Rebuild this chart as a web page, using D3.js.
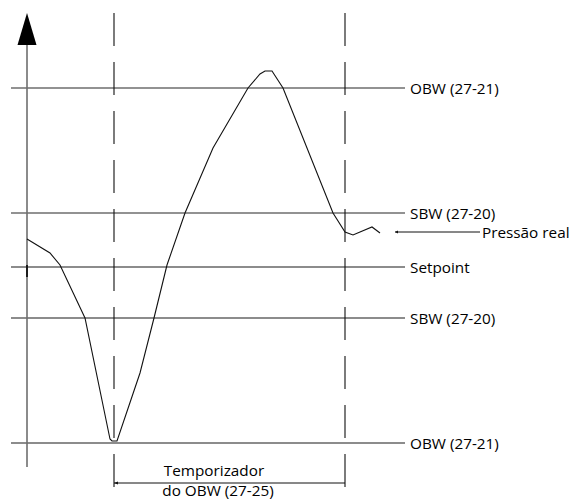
<!DOCTYPE html>
<html>
<head>
<meta charset="utf-8">
<script src="https://cdn.jsdelivr.net/npm/d3@7"></script>
<style>
  html, body { margin: 0; padding: 0; background: #fff; }
  svg { display: block; }
  text { font-family: "Open Sans", "Noto Sans", sans-serif; font-size: 15.3px; fill: #000; }
</style>
</head>
<body>
<svg id="chart" width="573" height="499"></svg>
<script>
// Pressure curve: time (arbitrary units) and pressure (relative to setpoint)
const curveTime  = [0, 23, 33, 58, 83, 85, 90, 113, 127, 140, 158, 186, 221, 233, 238, 245, 256, 306, 318, 326, 345, 353];
const curveValue = [28, 14, 2, -51, -172, -174, -174, -106, -51, 2, 54, 119, 179, 193, 196, 196, 179, 54, 35, 32, 40, 34];

// Horizontal reference levels
const levelNames  = ["OBW (27-21)", "SBW (27-20)", "Setpoint", "SBW (27-20)", "OBW (27-21)"];
const levelValues = [179, 54, 0, -51, -176];
const levelGray   = [true, true, false, false, false];

// Timer markers
const timerStart = 87;
const timerEnd = 318;
const timerLabel = ["Temporizador", "do OBW (27-25)"];
const actualLabel = "Pressão real";

const svg = d3.select("#chart");
const x = d3.scaleLinear().domain([0, 353]).range([27, 380]);
const y = d3.scaleLinear().domain([-176, 179]).range([443, 88]);

// horizontal level lines
const levels = levelNames.map((n, i) => ({ name: n, v: levelValues[i], gray: levelGray[i] }));
svg.selectAll("line.level").data(levels).join("line")
  .attr("class", "level")
  .attr("x1", x(-16)).attr("x2", x(378))
  .attr("y1", d => y(d.v)).attr("y2", d => y(d.v))
  .attr("stroke", d => d.gray ? "#6e6e6e" : "#1a1a1a")
  .attr("stroke-width", d => d.gray ? 1.6 : 1.1);

svg.selectAll("text.level").data(levels).join("text")
  .attr("class", "level")
  .attr("x", x(383)).attr("y", d => y(d.v))
  .attr("dy", "0.36em")
  .text(d => d.name);

// Y axis with arrow
svg.append("line")
  .attr("x1", x(0)).attr("x2", x(0))
  .attr("y1", y(-200)).attr("y2", 44)
  .attr("stroke", "#6e6e6e").attr("stroke-width", 1.6);
svg.append("line")
  .attr("x1", x(0)).attr("x2", x(0))
  .attr("y1", y(2)).attr("y2", y(-10))
  .attr("stroke", "#111").attr("stroke-width", 1.8);
svg.append("path")
  .attr("d", `M${x(0)},13 L${x(0) - 9.5},45 L${x(0) + 9.5},45 Z`)
  .attr("fill", "#000");

// dashed vertical timer lines
[timerStart, timerEnd].forEach(t => {
  svg.append("line")
    .attr("x1", x(t)).attr("x2", x(t))
    .attr("y1", 13).attr("y2", 493)
    .attr("stroke", "#111").attr("stroke-width", 1.1)
    .attr("stroke-dasharray", "33,16");
});

// pressure curve
const pts = curveTime.map((t, i) => [x(t), y(curveValue[i])]);
svg.append("path")
  .attr("d", d3.line()(pts))
  .attr("fill", "none").attr("stroke", "#111").attr("stroke-width", 1.1);

// Pressão real leader
const ly = y(35);
svg.append("line")
  .attr("x1", x(368)).attr("x2", x(453))
  .attr("y1", ly).attr("y2", ly)
  .attr("stroke", "#111").attr("stroke-width", 1);
svg.append("path")
  .attr("d", `M${x(368)},${ly} L${x(371)},${ly - 1.5} L${x(371)},${ly + 1.5} Z`)
  .attr("fill", "#111");
svg.append("text")
  .attr("x", x(455)).attr("y", ly).attr("dy", "0.36em")
  .text(actualLabel);

// timer arrow
const ty = y(-216);
svg.append("line")
  .attr("x1", x(timerStart)).attr("x2", x(timerEnd))
  .attr("y1", ty).attr("y2", ty)
  .attr("stroke", "#111").attr("stroke-width", 1);
svg.append("path")
  .attr("d", `M${x(timerStart)},${ty} L${x(timerStart) + 4},${ty - 1.5} L${x(timerStart) + 4},${ty + 1.5} Z`)
  .attr("fill", "#111");
svg.append("text")
  .attr("x", 214).attr("y", 476)
  .attr("text-anchor", "middle")
  .text(timerLabel[0]);
svg.append("text")
  .attr("x", 218).attr("y", 496)
  .attr("text-anchor", "middle")
  .text(timerLabel[1]);
</script>
</body>
</html>
